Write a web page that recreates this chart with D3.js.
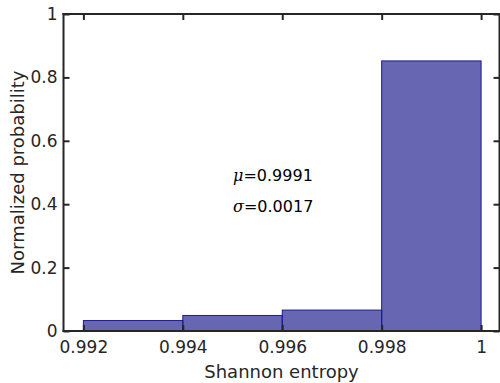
<!DOCTYPE html>
<html><head><meta charset="utf-8">
<script src="https://cdn.jsdelivr.net/npm/d3@7"></script>
<style>body{margin:0;background:#fff}svg{display:block}</style>
</head><body>
<script>
const binEdges = [0.992, 0.994, 0.996, 0.998, 1.000];
const probabilities = [0.033, 0.049, 0.066, 0.852];
const xTicks = [0.992, 0.994, 0.996, 0.998, 1];
const xTickLabels = ["0.992", "0.994", "0.996", "0.998", "1"];
const yTicks = [0, 0.2, 0.4, 0.6, 0.8, 1];
const yTickLabels = ["0", "0.2", "0.4", "0.6", "0.8", "1"];
const xLimits = [0.9916, 1.00037];
const yLimits = [0, 1];
const statLabels = [{sym: "μ", val: "=0.9991"}, {sym: "σ", val: "=0.0017"}];
const statAt = [{x: 0.99501, y: 0.473}, {x: 0.99501, y: 0.375}];

const W = 500, H = 383;
const m = {l: 63.5, t: 14, r: 0.5, b: 52};
const svg = d3.select("body").append("svg").attr("width", W).attr("height", H);
const x = d3.scaleLinear().domain(xLimits).range([m.l, W - m.r]);
const y = d3.scaleLinear().domain(yLimits).range([H - m.b, m.t]);
const axC = "#262626";

const bins = probabilities.map((p, i) => ({x0: binEdges[i], x1: binEdges[i + 1], p}));
svg.append("g").selectAll("rect").data(bins).join("rect")
  .attr("x", d => x(d.x0)).attr("width", d => x(d.x1) - x(d.x0))
  .attr("y", d => y(d.p)).attr("height", d => y(0) - y(d.p))
  .attr("fill", "#000080").attr("fill-opacity", 0.6)
  .attr("stroke", "#1c1c90").attr("stroke-width", 1);

const font = "DejaVu Sans, sans-serif";
const gx = svg.append("g").attr("transform", `translate(0,${y(0)})`)
  .call(d3.axisBottom(x).tickValues(xTicks).tickFormat((d, i) => xTickLabels[i]).tickSize(-6).tickPadding(10));
const gxt = svg.append("g").attr("transform", `translate(0,${y(1)})`)
  .call(d3.axisTop(x).tickValues(xTicks).tickFormat("").tickSize(-6));
const gy = svg.append("g").attr("transform", `translate(${x(xLimits[0])},0)`)
  .call(d3.axisLeft(y).tickValues(yTicks).tickFormat((d, i) => yTickLabels[i]).tickSize(-6).tickPadding(6));
const gyr = svg.append("g").attr("transform", `translate(${x(xLimits[1])},0)`)
  .call(d3.axisRight(y).tickValues(yTicks).tickFormat("").tickSize(-6));
[gx, gxt, gy, gyr].forEach(g => {
  g.select(".domain").attr("stroke", axC).attr("stroke-width", 2);
  g.selectAll(".tick line").attr("stroke", axC).attr("stroke-width", 2);
  g.selectAll(".tick text").attr("fill", axC).attr("font-family", font).attr("font-size", 17);
});
gx.selectAll(".domain").attr("d", `M${x(xLimits[0])-1},0H${x(xLimits[1])+1}`);
gxt.selectAll(".domain").attr("d", `M${x(xLimits[0])-1},0H${x(xLimits[1])+1}`);
gy.selectAll(".domain").attr("d", `M0,${y(0)+1}V${y(1)-1}`);
gyr.selectAll(".domain").attr("d", `M0,${y(0)+1}V${y(1)-1}`);

svg.append("text").attr("x", (x(xLimits[0]) + x(xLimits[1])) / 2).attr("y", 378)
  .attr("text-anchor", "middle").attr("font-family", font).attr("font-size", 18).attr("fill", axC)
  .text("Shannon entropy");
svg.append("text").attr("transform", `translate(24,${(y(0) + y(1)) / 2}) rotate(-90)`)
  .attr("text-anchor", "middle").attr("font-family", font).attr("font-size", 18).attr("fill", axC)
  .text("Normalized probability");

statLabels.forEach((s, i) => {
  const t = svg.append("text").attr("x", x(statAt[i].x)).attr("y", y(statAt[i].y))
    .attr("font-size", 16).attr("fill", "#000");
  t.append("tspan").attr("font-family", "DejaVu Serif, serif").attr("font-style", "italic").text(s.sym);
  t.append("tspan").attr("font-family", font).text(s.val);
});
</script>
</body></html>
